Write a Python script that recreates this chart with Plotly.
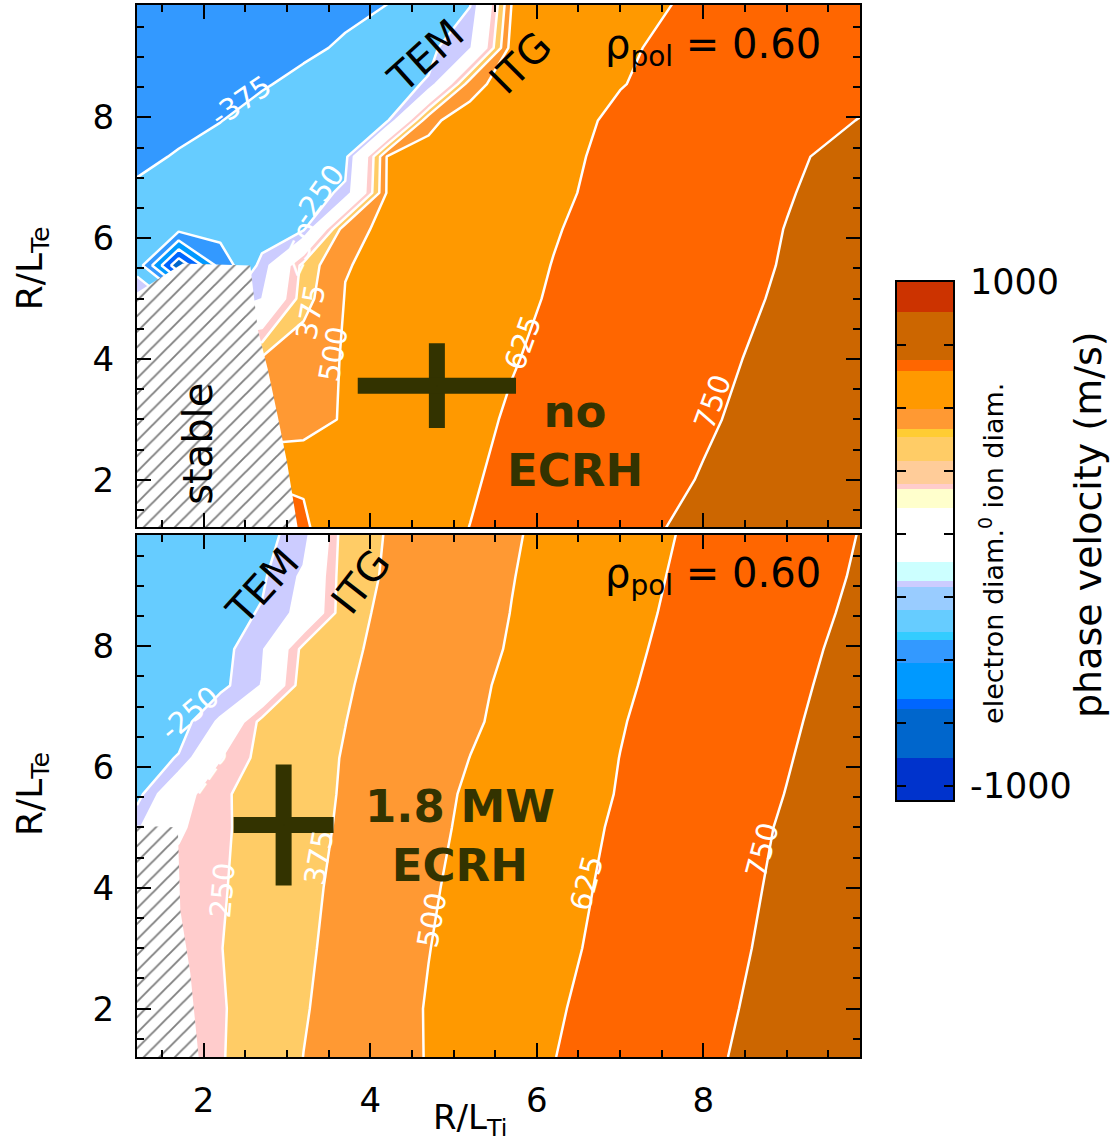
import plotly.graph_objects as go

# ---------------------------------------------------------------------------
# Scan grid: R/L_Ti (columns) and R/L_Te (rows)
# ---------------------------------------------------------------------------
rlti = [1.2, 1.7, 2.2, 2.7, 3.2, 3.7, 4.2, 4.7, 5.2, 5.7, 6.2, 7.0, 8.0, 9.0, 9.9]
rlte = [1.2, 2.0, 3.0, 4.0, 5.0, 5.55, 6.15, 6.75, 7.35, 7.95, 8.55, 9.15, 9.9]

# phase velocity (m/s), no ECRH, rho_pol = 0.60 (one row per R/L_Te value)
vph_no_ecrh = [
    [700, 700, 700, 700, 640, 550, 575, 600, 626, 652, 678, 721, 774, 827, 868],
    [620, 620, 620, 620, 615, 548, 570, 595, 617, 645, 669, 708, 755, 800, 842],
    [420, 420, 420, 420, 440, 515, 545, 573, 603, 635, 655, 690, 740, 785, 825],
    [390, 390, 390, 395, 450, 508, 535, 563, 590, 620, 645, 680, 728, 775, 815],
    [-150, -300, -300, -130, 330, 505, 530, 556, 582, 605, 633, 668, 715, 762, 802],
    [-300, -850, -450, -220, 300, 495, 525, 550, 576, 600, 627, 662, 710, 756, 797],
    [-330, -340, -330, -310, -270, 470, 520, 545, 570, 595, 620, 657, 705, 752, 792],
    [-360, -345, -330, -315, -300, -230, 510, 532, 558, 584, 610, 652, 700, 745, 785],
    [-395, -368, -345, -325, -305, -290, 505, 528, 552, 577, 603, 648, 694, 738, 776],
    [-430, -400, -377, -345, -320, -300, -280, 480, 545, 570, 595, 640, 688, 728, 752],
    [-460, -430, -405, -382, -355, -330, -290, -240, 460, 560, 590, 622, 660, 700, 735],
    [-480, -460, -435, -412, -390, -365, -330, -280, -150, 560, 582, 615, 652, 688, 718],
    [-490, -475, -455, -435, -415, -395, -377, -330, -260, 505, 530, 590, 645, 680, 705],
]

# phase velocity (m/s), 1.8 MW ECRH, rho_pol = 0.60
vph_ecrh = [
    [180, 200, 242, 309, 376, 419, 463, 505, 545, 584, 623, 673, 732, 793, 848],
    [180, 195, 240, 304, 368, 415, 461, 506, 542, 578, 615, 665, 724, 785, 838],
    [180, 200, 247, 303, 360, 407, 452, 498, 535, 569, 603, 654, 714, 776, 830],
    [180, 195, 240, 296, 352, 400, 444, 489, 527, 561, 594, 646, 706, 768, 823],
    [-150, 100, 235, 288, 341, 390, 434, 477, 518, 552, 585, 637, 697, 760, 815],
    [-300, 50, 235, 290, 338, 385, 425, 466, 515, 548, 578, 630, 692, 752, 808],
    [-330, -240, 120, 300, 345, 380, 418, 458, 501, 536, 570, 626, 686, 745, 800],
    [-345, -320, -100, 300, 335, 374, 410, 448, 487, 525, 560, 620, 680, 738, 793],
    [-355, -330, -290, -120, 340, 368, 400, 438, 481, 518, 552, 612, 673, 731, 785],
    [-360, -340, -300, -150, 300, 362, 392, 430, 470, 508, 545, 605, 665, 724, 777],
    [-365, -345, -300, -240, -71, 350, 390, 425, 462, 502, 538, 598, 658, 716, 768],
    [-370, -350, -320, -270, -100, 345, 382, 418, 455, 497, 532, 592, 652, 710, 760],
    [-372, -360, -335, -290, -200, 340, 378, 412, 447, 490, 525, 583, 645, 702, 753],
]

# linearly stable part of the scan (hatched)
stable_no_ecrh_ti = [1.2, 1.2, 1.75, 2.56, 2.65, 2.77, 2.89, 3.0, 3.13]
stable_no_ecrh_te = [1.2, 5.1, 5.58, 5.55, 4.49, 3.83, 3.05, 2.3, 1.2]
stable_ecrh_ti = [1.2, 1.2, 1.69, 1.72, 1.84, 1.94]
stable_ecrh_te = [1.2, 5.03, 5.0, 3.63, 2.59, 1.2]

# experimental operating points with uncertainties (R/L_Ti, R/L_Te, dTi, dTe)
op_no_ecrh = [4.8, 3.56, 0.95, 0.7]
op_ecrh = [2.96, 5.04, 0.6, 1.0]

# contour levels and fill colours (one colour per 125 m/s band, from -1000 up)
level_start, level_end, level_step = -1000, 1000, 125
band_colors = [
    "#0033CC", "#0066CC", "#0066FF", "#0099FF", "#3399FF", "#66CCFF",
    "#CCCCFF", "#FFFFFF", "#FFFFFF", "#FFCCCC", "#FFCC66", "#FF9933",
    "#FF9900", "#FF6600", "#CC6600", "#CC3300",
]

# contour labels: level, R/L_Ti, R/L_Te, text angle
labels_no_ecrh = [
    (-375, 2.45, 8.27, -34),
    (-250, 3.38, 6.71, -55),
    (250, 3.16, 5.81, -65),
    (375, 3.28, 4.77, -80),
    (500, 3.56, 4.08, -80),
    (625, 5.83, 4.27, -70),
    (750, 8.11, 3.29, -70),
]
labels_ecrh = [
    (-250, 1.84, 6.89, -40),
    (125, 2.02, 5.97, -55),
    (250, 2.23, 3.96, -85),
    (375, 3.38, 4.50, -80),
    (500, 4.74, 3.47, -80),
    (625, 6.60, 4.08, -75),
    (750, 8.71, 4.62, -75),
]

# colour table shown in the side bar: band edges (m/s) and colours
cbar_edges = [-1055, -890, -695, -655, -510, -420, -390, -300, -210, -185,
              -110, 105, 180, 200, 290, 385, 415, 495, 645, 690, 880, 1000]
cbar_colors = [
    "#0033CC", "#0066CC", "#0066FF", "#0099FF", "#3399FF", "#33CCFF",
    "#66CCFF", "#99CCFF", "#CCCCFF", "#CCFFFF", "#FFFFFF", "#FFFFCC",
    "#FFCCCC", "#FFCC99", "#FFCC66", "#FFCC33", "#FF9933", "#FF9900",
    "#FF6600", "#CC6600", "#CC3300",
]
cbar_tickvals = [-1000, 1000]
cbar_ticktext = ["-1000", "1000"]

# ---------------------------------------------------------------------------
# Stepped colour scale so that each filled band gets exactly one colour
# (plotly maps fill colours over [start - step/2, end + step/2])
# ---------------------------------------------------------------------------
lo = level_start - level_step / 2
hi = level_end + level_step / 2


def frac(v):
    return (v - lo) / (hi - lo)


colorscale = [[0.0, band_colors[0]]]
for k, col in enumerate(band_colors):
    a = frac(level_start + k * level_step)
    b = frac(level_start + (k + 1) * level_step)
    colorscale += [[a, col], [b, col]]
colorscale.append([1.0, band_colors[-1]])

FONT = "DejaVu Sans"
OLIVE = "#333300"

fig = go.Figure()


def add_panel(z, xa, ya, st_x, st_y, op):
    fig.add_trace(go.Contour(
        x=rlti, y=rlte, z=z, xaxis=xa, yaxis=ya,
        autocontour=False,
        contours=dict(start=level_start, end=level_end, size=level_step,
                      coloring="fill", showlabels=False),
        line=dict(color="white", width=2.5, smoothing=0),
        colorscale=colorscale, showscale=False, hoverinfo="skip",
    ))
    fig.add_trace(go.Scatter(
        x=st_x, y=st_y, xaxis=xa, yaxis=ya, mode="lines",
        fill="toself", fillcolor="white",
        fillpattern=dict(shape="/", fgcolor="black", bgcolor="white",
                         size=11, solidity=0.17),
        line=dict(width=0), hoverinfo="skip", showlegend=False,
    ))
    fig.add_trace(go.Scatter(
        x=[op[0]], y=[op[1]], xaxis=xa, yaxis=ya, mode="markers",
        marker=dict(size=1, color=OLIVE),
        error_x=dict(type="constant", value=op[2], thickness=16, width=0, color=OLIVE),
        error_y=dict(type="constant", value=op[3], thickness=16, width=0, color=OLIVE),
        hoverinfo="skip", showlegend=False,
    ))


add_panel(vph_no_ecrh, "x", "y", stable_no_ecrh_ti, stable_no_ecrh_te, op_no_ecrh)
add_panel(vph_ecrh, "x2", "y2", stable_ecrh_ti, stable_ecrh_te, op_ecrh)

# colour table bar
fig.add_trace(go.Bar(
    x=[0.5] * len(cbar_colors),
    y=[cbar_edges[i + 1] - cbar_edges[i] for i in range(len(cbar_colors))],
    base=cbar_edges[:-1], width=1,
    marker=dict(color=cbar_colors, line=dict(width=0)),
    xaxis="x3", yaxis="y3", hoverinfo="skip", showlegend=False,
))

# ---------------------------------------------------------------------------
# Axes
# ---------------------------------------------------------------------------
PANEL_X = [0.0, 0.7431]
TOP_Y = [0.5038, 1.0]
BOT_Y = [0.0, 0.4962]

common_x = dict(
    range=[1.2, 9.88], tick0=0, dtick=2, ticks="inside", ticklen=14, tickwidth=2,
    tickcolor="black", minor=dict(ticks="inside", tick0=0, dtick=0.5, ticklen=7,
                                  tickwidth=2, tickcolor="black"),
    showline=True, linecolor="black", linewidth=2, mirror="allticks",
    showgrid=False, zeroline=False, domain=PANEL_X, automargin=False,
    tickfont=dict(family=FONT, size=34, color="black"), ticklabelstandoff=12,
)
common_y = dict(
    tick0=0, dtick=2, ticks="inside", ticklen=14, tickwidth=2,
    tickcolor="black", minor=dict(ticks="inside", tick0=0, dtick=0.5, ticklen=7,
                                  tickwidth=2, tickcolor="black"),
    showline=True, linecolor="black", linewidth=2, mirror="allticks",
    showgrid=False, zeroline=False, automargin=False,
    tickfont=dict(family=FONT, size=34, color="black"), ticklabelstandoff=14,
)

fig.update_layout(
    width=1110, height=1145,
    margin=dict(l=137, r=0, t=5, b=88, autoexpand=False),
    paper_bgcolor="white", plot_bgcolor="white",
    font=dict(family=FONT, color="black"),
    showlegend=False, bargap=0,
    xaxis=dict(common_x, anchor="y", showticklabels=False),
    yaxis=dict(common_y, anchor="x", domain=TOP_Y, range=[1.22, 9.86]),
    xaxis2=dict(common_x, anchor="y2"),
    yaxis2=dict(common_y, anchor="x2", domain=BOT_Y, range=[1.2, 9.84]),
    xaxis3=dict(domain=[0.7811, 0.8387], range=[0, 1], anchor="y3",
                showline=True, linecolor="black", linewidth=2, mirror=True,
                showticklabels=False, ticks="", showgrid=False, zeroline=False,
                fixedrange=True, automargin=False),
    yaxis3=dict(domain=[0.2443, 0.7367], range=[-1055, 1000], anchor="x3",
                side="right", tickvals=cbar_tickvals, ticktext=cbar_ticktext,
                ticks="inside", ticklen=9, tickwidth=2, tickcolor="black",
                minor=dict(ticks="inside", tick0=0, dtick=250, ticklen=9,
                           tickwidth=2, tickcolor="black"),
                mirror="allticks", showline=True, linecolor="black", linewidth=2,
                showgrid=False, zeroline=False, ticklabelstandoff=8,
                automargin=False,
                tickfont=dict(family=FONT, size=35, color="black")),
)

# ---------------------------------------------------------------------------
# Text
# ---------------------------------------------------------------------------
ann = []


def text(x, y, s, size, xref="x", yref="y", angle=0, bold=False, color="black"):
    ann.append(dict(
        x=x, y=y, xref=xref, yref=yref, text=s, showarrow=False,
        textangle=angle, xanchor="center", yanchor="middle",
        font=dict(family=FONT, size=size, color=color,
                  weight="bold" if bold else "normal"),
    ))


# contour labels
for lev, lx, ly, ang in labels_no_ecrh:
    text(lx, ly, str(lev), 29, angle=ang, color="white")
for lev, lx, ly, ang in labels_ecrh:
    text(lx, ly, str(lev), 29, xref="x2", yref="y2", angle=ang, color="white")

# top panel
text(8.12, 9.16, "\u03c1<sub>pol</sub> = 0.60", 40)
text(4.66, 9.02, "TEM", 40, angle=-42)
text(5.8, 8.9, "ITG", 40, angle=-45)
text(1.94, 2.59, "stable", 40, angle=-90)
text(6.46, 2.64, "no<br>ECRH", 45, bold=True, color=OLIVE)

# bottom panel
text(8.12, 9.16, "\u03c1<sub>pol</sub> = 0.60", 40, xref="x2", yref="y2")
text(2.71, 8.99, "TEM", 40, xref="x2", yref="y2", angle=-48)
text(3.88, 9.07, "ITG", 40, xref="x2", yref="y2", angle=-52)
text(5.08, 4.85, "1.8 MW<br>ECRH", 45, xref="x2", yref="y2", bold=True, color=OLIVE)

# axis titles
text(-0.108, 0.7497, "R/L<sub>Te</sub>", 36, xref="paper", yref="paper", angle=-90)
text(-0.108, 0.2500, "R/L<sub>Te</sub>", 36, xref="paper", yref="paper", angle=-90)
text(0.3422, -0.0590, "R/L<sub>Ti</sub>", 34, xref="paper", yref="paper")

# colour table labels
text(0.8787, 0.4791, "electron diam.<sup>0</sup> ion diam.", 27,
     xref="paper", yref="paper", angle=-90)
text(0.9774, 0.5057, "phase velocity (m/s)", 38, xref="paper", yref="paper", angle=-90)

fig.update_layout(annotations=ann)

fig.write_html("out.html")
